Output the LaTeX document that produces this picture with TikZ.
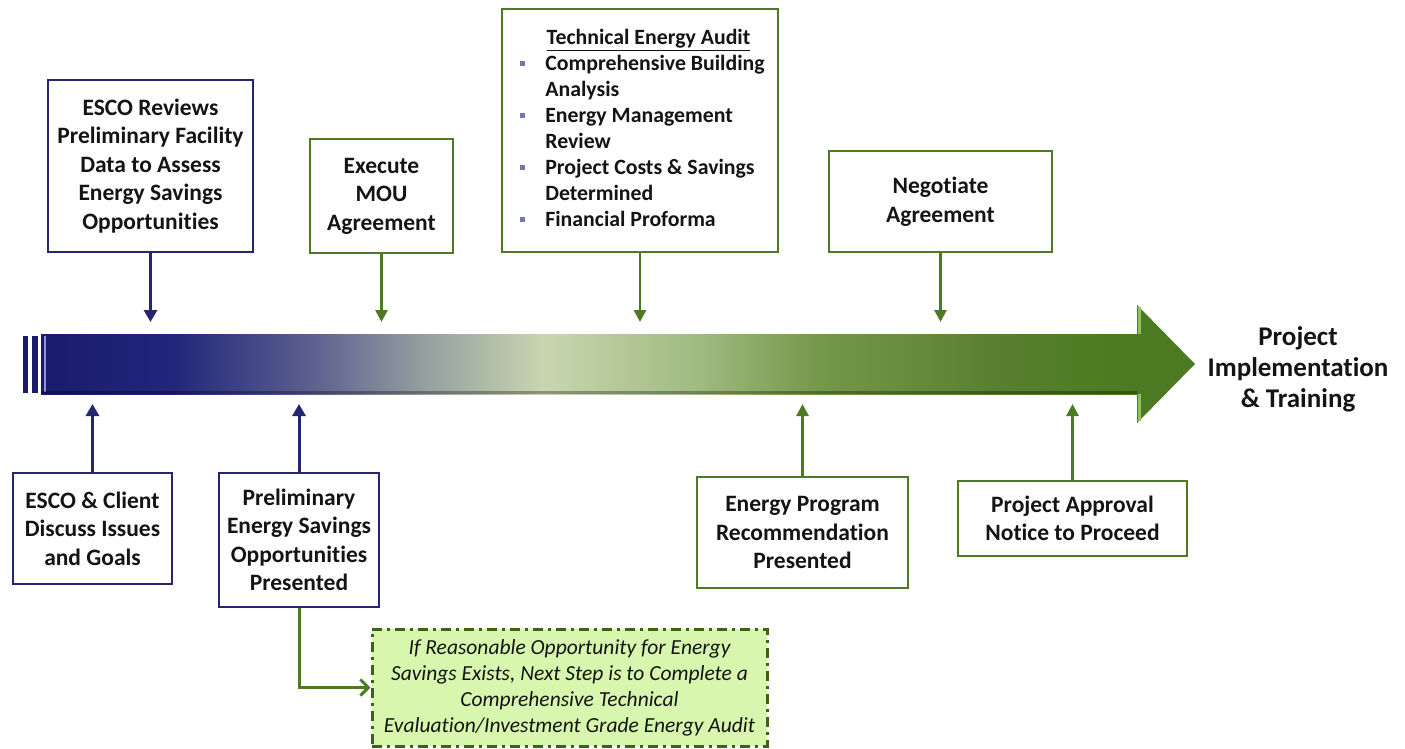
\documentclass[tikz,border=0pt]{standalone}
\usepackage{fontspec}
\setmainfont{Carlito}[Ligatures=NoCommon]
\usetikzlibrary{arrows.meta}
\definecolor{navyb}{HTML}{252570}
\definecolor{greenb}{HTML}{4E7A23}
\definecolor{txt}{HTML}{141414}
\definecolor{bulc}{HTML}{7076B0}
\definecolor{notefill}{HTML}{D8F6AE}
\definecolor{notedash}{HTML}{3C6414}
\definecolor{tl0}{HTML}{1A1A6E}
\definecolor{tl1}{HTML}{22267A}
\definecolor{tl2}{HTML}{5E6290}
\definecolor{tl3}{HTML}{95A0A0}
\definecolor{tl4}{HTML}{C8D6B0}
\definecolor{tl5}{HTML}{A0BA80}
\definecolor{tl6}{HTML}{74984A}
\definecolor{tl7}{HTML}{587F2E}
\definecolor{tl8}{HTML}{4A7A20}
\definecolor{headgreen}{HTML}{4B7A22}
\definecolor{headhl}{HTML}{8CC45A}
\definecolor{lav}{HTML}{9095D8}
\pgfdeclarehorizontalshading{timeline}{100bp}{color(0bp)=(tl0); color(25bp)=(tl0); color(31bp)=(tl1); color(37.5bp)=(tl2); color(42.5bp)=(tl3); color(47.9bp)=(tl4); color(54.9bp)=(tl5); color(60.4bp)=(tl6); color(68.6bp)=(tl7); color(75bp)=(tl8); color(100bp)=(tl8)}
\newcommand\tabbullet{\textcolor{bulc}{\rule[0.22em]{5pt}{5pt}}}
\begin{document}
\begin{tikzpicture}[x=1pt,y=-1pt,
  box/.style={draw, line width=2.6pt, fill=white, inner sep=0pt, align=center, text=txt, font=\fontsize{23.5}{28.5}\selectfont\bfseries},
  navybox/.style={box, draw=navyb},
  greenbox/.style={box, draw=greenb},
  navyarr/.style={draw=navyb, line width=3pt, -{Triangle[length=12pt,width=13pt]}},
  greenarr/.style={draw=greenb, line width=2.8pt, -{Triangle[length=12pt,width=12pt]}},
]
\useasboundingbox (0,0) rectangle (1405,749);

% main timeline arrow
\fill[tl0] (23,336) rectangle (28,393);
\fill[tl0] (32,336) rectangle (38,393);
\shade[shading=timeline] (41,334) rectangle (1140,394);
\draw[lav, line width=1.5pt] (45,336) -- (45,392);
\fill[black, opacity=0.3] (41,390.5) rectangle (1140,394);
\fill[headgreen] (1137,305) -- (1195,364) -- (1137,423) -- cycle;
\draw[headhl, line width=3pt] (1139,307) -- (1139,334) (1139,394) -- (1139,421);

\coordinate (upper) at (0,322);
\coordinate (lower) at (0,404);

% top boxes
\node[navybox, minimum width=205pt, minimum height=172pt] (b1) at (150.5,166)
  {ESCO Reviews\\Preliminary Facility\\Data to Assess\\Energy Savings\\Opportunities};
\node[greenbox, minimum width=143pt, minimum height=114pt] (b2) at (381.5,196)
  {Execute\\MOU\\Agreement};
\node[greenbox, minimum width=276pt, minimum height=243pt, font=\fontsize{21.8}{26}\selectfont\bfseries] (b3) at (640,130.5)
  {\hspace*{5pt}\begin{tabular}{@{}l@{\hspace{20pt}}l@{}}
   \multicolumn{2}{c}{\hspace*{12pt}\underline{Technical Energy Audit}}\\
   \tabbullet & Comprehensive Building\\
    & Analysis\\
   \tabbullet & Energy Management\\
    & Review\\
   \tabbullet & Project Costs \& Savings\\
    & Determined\\
   \tabbullet & Financial Proforma
   \end{tabular}};
\node[greenbox, minimum width=223pt, minimum height=101pt] (b4) at (940.5,201.5)
  {Negotiate\\Agreement};

% bottom boxes
\node[navybox, minimum width=159pt, minimum height=111pt] (b5) at (92.5,528.5)
  {ESCO \& Client\\Discuss Issues\\and Goals};
\node[navybox, minimum width=160pt, minimum height=134pt] (b6) at (299,540)
  {Preliminary\\Energy Savings\\Opportunities\\Presented};
\node[greenbox, minimum width=211pt, minimum height=111pt] (b7) at (802.5,532.5)
  {Energy Program\\Recommendation\\Presented};
\node[greenbox, minimum width=229pt, minimum height=75pt] (b8) at (1072.5,518.5)
  {Project Approval\\Notice to Proceed};

% note
\node[draw=notedash, fill=notefill, line width=3pt, dash pattern=on 10pt off 5pt on 3pt off 5pt,
  minimum width=395pt, minimum height=117pt, inner sep=0pt, align=center, text=txt,
  font=\fontsize{21.5}{26}\selectfont\itshape] (note) at (569.5,687.5)
  {If Reasonable Opportunity for Energy\\Savings Exists, Next Step is to Complete a\\Comprehensive Technical\\Evaluation/Investment Grade Energy Audit};

% end label
\node[align=center, text=txt, font=\fontsize{27}{31}\selectfont\bfseries] (proj) at (1298,369)
  {Project\\Implementation\\\& Training};

% connectors
\draw[navyarr] (b1.south) -- (b1.south |- upper);
\draw[greenarr] (b2.south) -- (b2.south |- upper);
\draw[greenarr] (b3.south) -- (b3.south |- upper);
\draw[greenarr] (b4.south) -- (b4.south |- upper);
\draw[navyarr] (b5.north) -- (b5.north |- lower);
\draw[navyarr] (b6.north) -- (b6.north |- lower);
\draw[greenarr] (b7.north) -- (b7.north |- lower);
\draw[greenarr] (b8.north) -- (b8.north |- lower);
\draw[draw=greenb, line width=3pt, -{Straight Barb[length=8pt,width=16pt]}] (b6.south) |- (note.west);
\end{tikzpicture}
\end{document}
